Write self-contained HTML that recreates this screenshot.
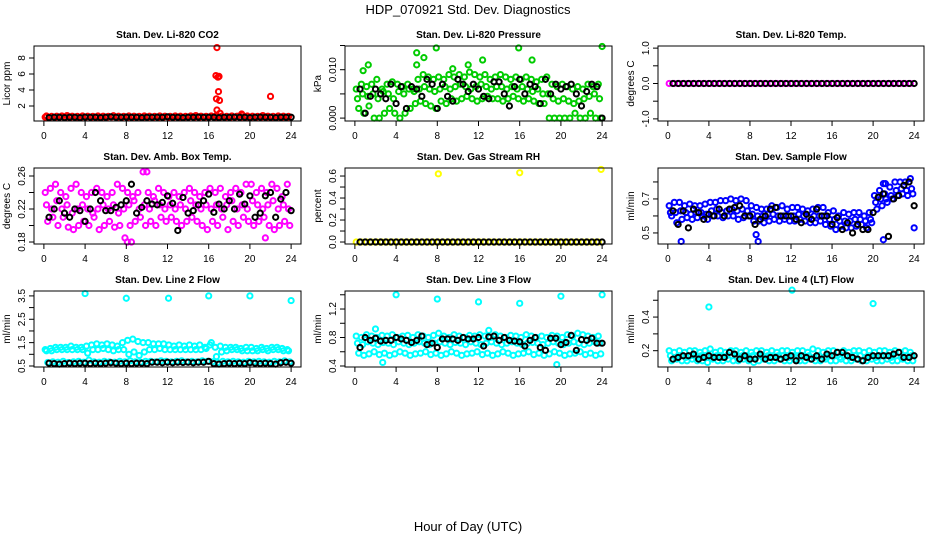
<!DOCTYPE html>
<html><head><meta charset="utf-8"><style>
html,body{margin:0;padding:0;background:#fff;}
svg{display:block;font-family:"Liberation Sans",Arial,sans-serif;}
</style></head><body>
<svg id="chart" width="936" height="540" viewBox="0 0 936 540" xmlns="http://www.w3.org/2000/svg">
<text x="468" y="14" font-size="13" text-anchor="middle">HDP_070921  Std. Dev. Diagnostics</text>
<text x="468" y="531" font-size="13" text-anchor="middle">Hour of Day (UTC)</text>
</svg>
<script>
// ---- data ----
const hourTicks = [0,4,8,12,16,20,24];
const panelTitles = ["Stan. Dev. Li-820 CO2","Stan. Dev. Li-820 Pressure","Stan. Dev. Li-820 Temp.","Stan. Dev. Amb. Box Temp.","Stan. Dev. Gas Stream RH","Stan. Dev. Sample Flow","Stan. Dev. Line 2 Flow","Stan. Dev. Line 3 Flow","Stan. Dev. Line 4 (LT) Flow"];
const yTitles = ["Licor ppm","kPa","degrees C","degrees C","percent","ml/min","ml/min","ml/min","ml/min"];

const co2C1 = [0.6,0.62,0.6,0.65,0.6,0.62,0.6,0.6,0.63,0.6,0.62,0.6,0.6,0.65,0.6,0.62,0.6,0.6,0.63,0.6,0.62,0.6,0.6,0.62,0.6,0.62,0.6,0.6,0.63,0.6,0.62,0.6,0.65,0.6,0.62,0.6,0.6,0.63,0.6,0.62,0.6,0.6,0.62,0.6,0.62,0.6,0.6,0.6];
const co2C2 = [0.75,0.7,0.72,0.75,0.8,0.72,0.7,0.75,0.72,0.7,0.75,0.72,0.7,0.78,0.72,0.7,0.75,0.72,0.7,0.75,0.72,0.7,0.75,0.72,0.7,0.75,0.72,0.7,0.75,0.8,0.72,0.7,0.75,0.8,0.72,0.7,0.75,0.72,0.85,0.75,0.72,0.7,0.8,0.72,0.7,0.75,0.72,0.7];
const co2Bk = [0.55,0.6,0.6,0.55,0.6,0.6,0.55,0.62,0.6,0.6,0.55,0.6,0.65,0.6,0.6,0.62,0.6,0.6,0.55,0.6,0.6,0.62,0.6,0.65,0.6,0.6,0.55,0.6,0.6,0.62,0.6,0.6,0.6,0.55,0.6,0.6,0.62,0.6,0.6,0.55,0.6,0.62,0.6,0.6,0.55,0.6,0.6,0.6];
const co2OutX = [16.8,16.7,16.9,17.0,16.95,16.75,17.05,16.8,17.1,22.0,19.2];
const co2OutY = [9.3,5.8,5.6,5.7,3.8,2.9,2.7,1.5,1.1,3.2,1.0];

const presC1 = [0.006,0.007,0.0065,0.007,0.008,0.006,0.007,0.0075,0.007,0.0065,0.007,0.006,0.008,0.009,0.0085,0.008,0.0085,0.008,0.009,0.0085,0.009,0.0085,0.0095,0.009,0.0085,0.009,0.008,0.0085,0.009,0.0085,0.008,0.0085,0.008,0.0085,0.008,0.0075,0.008,0.0085,0.007,0.0065,0.007,0.0065,0.006,0.0065,0.006,0.007,0.0065,0.007];
const presC2 = [0.004,0.005,0.0045,0.005,0.004,0.0055,0.005,0.004,0.0055,0.005,0.006,0.0055,0.006,0.0065,0.006,0.0055,0.006,0.0065,0.006,0.0065,0.007,0.0065,0.006,0.0065,0.007,0.0065,0.006,0.0065,0.0065,0.006,0.0065,0.006,0.0065,0.006,0.0055,0.006,0.005,0.005,0.004,0.0035,0.004,0.0035,0.003,0.0035,0.004,0.0045,0.005,0.004];
const presC3 = [0.002,0.001,0.0025,0,0,0.001,0.002,0.001,0,0.001,0.002,0.003,0.0035,0.003,0.0025,0.002,0.0035,0.003,0.004,0.0035,0.004,0.0045,0.004,0.0035,0.004,0.0045,0.004,0.004,0.0035,0.004,0.0045,0.004,0.0035,0.004,0.0035,0.003,0.003,0,0,0,0,0,0.001,0,0,0.001,0,0];
const presBk = [0.006,0.001,0.0045,0.006,0.005,0.004,0.007,0.003,0.0065,0.002,0.0065,0.006,0.0045,0.008,0.007,0.002,0.007,0.0045,0.0035,0.008,0.007,0.0055,0.007,0.006,0.0045,0.004,0.0075,0.0075,0.005,0.0025,0.0065,0.008,0.005,0.007,0.0065,0.003,0.008,0.005,0.007,0.006,0.0065,0.007,0.005,0.0025,0.0055,0.007,0.0065,0];
const presOutX = [0.8,1.3,6.0,6.7,7.9,9.5,11.0,12.4,15.9,17.2,24.0,6.0];
const presOutY = [0.0098,0.011,0.0135,0.0125,0.0145,0.0102,0.011,0.012,0.0145,0.012,0.0148,0.011];

const tempC1 = [0,0,0,0,0,0,0,0,0,0,0,0,0,0,0,0,0,0,0,0,0,0,0,0,0,0,0,0,0,0,0,0,0,0,0,0,0,0,0,0,0,0,0,0,0,0,0,0];
const tempBk = [0,0,0,0,0,0,0,0,0,0,0,0,0,0,0,0,0,0,0,0,0,0,0,0,0,0,0,0,0,0,0,0,0,0,0,0,0,0,0,0,0,0,0,0,0,0,0,0];

const boxC1 = [0.24,0.245,0.25,0.24,0.235,0.245,0.25,0.24,0.235,0.24,0.245,0.24,0.235,0.24,0.25,0.245,0.24,0.235,0.24,0.265,0.24,0.235,0.245,0.24,0.235,0.24,0.235,0.24,0.245,0.24,0.235,0.24,0.245,0.24,0.245,0.235,0.24,0.245,0.24,0.25,0.25,0.24,0.245,0.24,0.25,0.245,0.235,0.25];
const boxC2 = [0.225,0.22,0.23,0.22,0.225,0.215,0.22,0.225,0.22,0.215,0.22,0.225,0.22,0.225,0.215,0.22,0.225,0.23,0.22,0.225,0.22,0.23,0.225,0.22,0.225,0.22,0.225,0.22,0.23,0.225,0.22,0.225,0.22,0.225,0.22,0.225,0.23,0.22,0.225,0.22,0.23,0.225,0.22,0.225,0.23,0.22,0.225,0.22];
const boxC3 = [0.205,0.21,0.2,0.21,0.198,0.195,0.2,0.205,0.2,0.21,0.195,0.2,0.205,0.198,0.2,0.185,0.2,0.205,0.21,0.2,0.205,0.2,0.21,0.205,0.21,0.205,0.2,0.205,0.21,0.205,0.2,0.195,0.205,0.2,0.21,0.195,0.205,0.2,0.21,0.205,0.2,0.205,0.21,0.2,0.195,0.2,0.205,0.2];
const boxBk = [0.21,0.22,0.23,0.215,0.21,0.22,0.218,0.205,0.22,0.24,0.23,0.218,0.218,0.222,0.225,0.23,0.25,0.215,0.222,0.23,0.226,0.225,0.228,0.236,0.227,0.194,0.234,0.215,0.218,0.225,0.23,0.238,0.216,0.226,0.22,0.23,0.22,0.238,0.226,0.236,0.21,0.215,0.236,0.24,0.21,0.232,0.24,0.218];
const boxOutX = [8.1,8.5,10.0,21.5];
const boxOutY = [0.18,0.18,0.265,0.185];

const rhC1 = [0,0,0,0,0,0,0,0,0,0,0,0,0,0,0,0,0,0,0,0,0,0,0,0,0,0,0,0,0,0,0,0,0,0,0,0,0,0,0,0,0,0,0,0,0,0,0,0];
const rhBk = [0,0,0,0,0,0,0,0,0,0,0,0,0,0,0,0,0,0,0,0,0,0,0,0,0,0,0,0,0,0,0,0,0,0,0,0,0,0,0,0,0,0,0,0,0,0,0,0];
const rhOutX = [8.1,16.0,23.9];
const rhOutY = [0.62,0.63,0.66];

const sfC1 = [0.66,0.68,0.68,0.66,0.67,0.66,0.66,0.67,0.68,0.68,0.69,0.69,0.7,0.69,0.7,0.69,0.66,0.65,0.64,0.64,0.66,0.65,0.66,0.64,0.65,0.65,0.64,0.63,0.64,0.65,0.65,0.62,0.63,0.6,0.62,0.61,0.62,0.62,0.6,0.62,0.72,0.75,0.73,0.77,0.8,0.8,0.8,0.82];
const sfC2 = [0.62,0.62,0.63,0.62,0.61,0.62,0.62,0.61,0.63,0.64,0.62,0.63,0.64,0.63,0.64,0.63,0.61,0.6,0.6,0.61,0.61,0.6,0.6,0.6,0.6,0.61,0.6,0.59,0.6,0.6,0.6,0.58,0.58,0.57,0.57,0.57,0.58,0.58,0.57,0.58,0.68,0.7,0.7,0.72,0.75,0.76,0.75,0.76];
const sfC3 = [0.6,0.56,0.58,0.59,0.58,0.59,0.6,0.58,0.6,0.6,0.59,0.6,0.6,0.58,0.59,0.6,0.57,0.57,0.56,0.57,0.58,0.57,0.58,0.57,0.57,0.58,0.57,0.56,0.56,0.57,0.55,0.54,0.52,0.54,0.53,0.53,0.54,0.55,0.53,0.56,0.64,0.66,0.68,0.7,0.72,0.73,0.72,0.73];
const sfBk = [0.63,0.55,0.63,0.53,0.64,0.62,0.58,0.61,0.6,0.64,0.6,0.64,0.65,0.66,0.6,0.6,0.55,0.58,0.6,0.64,0.65,0.6,0.6,0.6,0.58,0.56,0.61,0.58,0.64,0.6,0.6,0.55,0.59,0.52,0.56,0.5,0.55,0.52,0.52,0.62,0.71,0.73,0.48,0.7,0.72,0.78,0.8,0.66];
const sfOutX = [1.3,8.6,8.8,21.0,21.2,24.0,21.0];
const sfOutY = [0.45,0.49,0.45,0.79,0.79,0.53,0.46];

const l2C1 = [1.2,1.25,1.3,1.3,1.3,1.35,1.3,1.3,1.35,1.4,1.45,1.4,1.45,1.4,1.35,1.5,1.6,1.65,1.55,1.5,1.5,1.45,1.45,1.45,1.4,1.35,1.4,1.35,1.4,1.35,1.4,1.3,1.4,1.3,1.35,1.3,1.3,1.3,1.25,1.3,1.3,1.25,1.3,1.25,1.3,1.3,1.25,1.2];
const l2C2 = [1.15,1.15,1.2,1.2,1.2,1.2,1.2,1.2,1.05,1.2,1.2,1.25,1.2,1.15,1.2,1.2,1.0,1.1,0.95,1.1,1.2,1.2,1.25,1.2,1.2,1.2,1.2,1.2,1.2,1.2,1.2,1.25,1.5,0.9,1.1,1.15,1.2,1.2,1.15,1.15,1.15,1.15,1.2,1.15,1.2,1.2,1.15,1.15];
const l2C3 = [0.65,0.68,0.66,0.7,0.65,0.68,0.7,0.66,0.75,0.68,0.66,0.7,0.68,0.66,0.7,0.68,0.72,0.68,0.66,0.7,0.7,0.68,0.72,0.7,0.68,0.7,0.72,0.68,0.7,0.68,0.72,0.7,0.68,0.65,0.7,0.68,0.7,0.68,0.66,0.7,0.68,0.7,0.68,0.66,0.7,0.68,0.72,0.68];
const l2Bk = [0.62,0.6,0.58,0.6,0.62,0.6,0.62,0.62,0.6,0.62,0.6,0.62,0.64,0.62,0.6,0.62,0.6,0.62,0.62,0.6,0.66,0.66,0.64,0.66,0.64,0.66,0.65,0.66,0.64,0.66,0.66,0.7,0.6,0.58,0.6,0.62,0.6,0.62,0.6,0.64,0.62,0.6,0.62,0.6,0.58,0.64,0.66,0.62];
const l2OutX = [4.0,8.0,12.1,16.0,20.0,24.0];
const l2OutY = [3.6,3.4,3.4,3.5,3.5,3.3];

const l3C1 = [0.82,0.8,0.84,0.82,0.8,0.83,0.82,0.84,0.8,0.82,0.83,0.8,0.84,0.82,0.8,0.83,0.86,0.82,0.8,0.84,0.82,0.8,0.83,0.82,0.84,0.82,0.8,0.84,0.82,0.8,0.83,0.82,0.8,0.84,0.82,0.8,0.82,0.8,0.83,0.82,0.8,0.84,0.82,0.86,0.84,0.82,0.8,0.82];
const l3C2 = [0.72,0.7,0.74,0.72,0.7,0.73,0.72,0.7,0.74,0.72,0.7,0.72,0.74,0.72,0.7,0.72,0.74,0.72,0.7,0.73,0.72,0.7,0.74,0.72,0.7,0.72,0.74,0.72,0.7,0.72,0.74,0.72,0.7,0.72,0.73,0.72,0.7,0.72,0.74,0.72,0.7,0.72,0.74,0.72,0.7,0.72,0.74,0.72];
const l3C3 = [0.58,0.55,0.57,0.6,0.56,0.58,0.55,0.57,0.6,0.58,0.55,0.57,0.58,0.6,0.56,0.58,0.55,0.57,0.6,0.58,0.55,0.57,0.58,0.6,0.56,0.58,0.55,0.57,0.6,0.58,0.55,0.57,0.58,0.6,0.56,0.58,0.55,0.57,0.6,0.58,0.55,0.57,0.58,0.6,0.56,0.58,0.55,0.57];
const l3Bk = [0.66,0.8,0.76,0.79,0.75,0.76,0.76,0.8,0.78,0.76,0.73,0.76,0.82,0.7,0.72,0.66,0.78,0.78,0.78,0.76,0.8,0.78,0.78,0.8,0.68,0.81,0.82,0.76,0.8,0.76,0.75,0.74,0.68,0.76,0.8,0.66,0.62,0.79,0.79,0.7,0.73,0.83,0.62,0.77,0.76,0.79,0.72,0.72];
const l3OutX = [4.0,8.0,12.0,16.0,20.0,24.0,2.0,13.0,19.6,2.7];
const l3OutY = [1.4,1.34,1.3,1.28,1.38,1.4,0.92,0.9,0.42,0.45];

const l4C1 = [0.2,0.19,0.2,0.19,0.2,0.2,0.19,0.2,0.21,0.19,0.2,0.19,0.2,0.2,0.19,0.2,0.19,0.2,0.2,0.19,0.2,0.19,0.2,0.2,0.19,0.2,0.2,0.19,0.21,0.2,0.19,0.2,0.2,0.19,0.2,0.19,0.2,0.2,0.19,0.2,0.19,0.2,0.2,0.19,0.2,0.19,0.2,0.19];
const l4C2 = [0.17,0.16,0.17,0.16,0.17,0.16,0.17,0.17,0.16,0.17,0.16,0.17,0.17,0.16,0.17,0.16,0.17,0.17,0.16,0.17,0.16,0.17,0.17,0.16,0.17,0.16,0.17,0.17,0.16,0.17,0.16,0.17,0.17,0.16,0.17,0.16,0.17,0.17,0.16,0.17,0.16,0.17,0.17,0.16,0.17,0.16,0.17,0.17];
const l4C3 = [0.14,0.15,0.14,0.14,0.15,0.14,0.14,0.13,0.15,0.14,0.14,0.15,0.14,0.14,0.15,0.14,0.13,0.14,0.15,0.14,0.14,0.15,0.14,0.14,0.15,0.14,0.14,0.15,0.14,0.14,0.15,0.14,0.14,0.15,0.14,0.14,0.15,0.14,0.14,0.15,0.14,0.14,0.15,0.14,0.14,0.15,0.14,0.14];
const l4Bk = [0.15,0.16,0.17,0.17,0.18,0.15,0.16,0.17,0.16,0.16,0.16,0.19,0.18,0.15,0.17,0.15,0.15,0.18,0.15,0.16,0.16,0.15,0.16,0.17,0.14,0.17,0.16,0.15,0.17,0.15,0.18,0.17,0.19,0.19,0.17,0.16,0.15,0.14,0.16,0.17,0.17,0.17,0.17,0.18,0.19,0.16,0.16,0.17];
const l4OutX = [4.0,12.1,20.0];
const l4OutY = [0.46,0.56,0.48];

// ---- layout (pixel geometry, not data) ----
const colX = [[34,301],[345,612],[658,924]];
const rowY = [[46,121],[168,244],[291,367]];
const yLims = [[0.125,9.5],[-0.0006,0.0149],[-1.06,1.06],[0.1776,0.2697],[-0.018,0.673],[0.435,0.882],[0.457,3.71],[0.386,1.453],[0.103,0.555]];
const yTickVals = [[2,4,6,8],[0,0.005,0.01,0.015],[-1,-0.5,0,0.5,1],[0.18,0.2,0.22,0.24,0.26],[0,0.1,0.2,0.3,0.4,0.5,0.6],[0.5,0.6,0.7,0.8],[0.5,1,1.5,2,2.5,3,3.5],[0.4,0.6,0.8,1,1.2,1.4],[0.2,0.3,0.4,0.5]];
const yTickLabels = [["2","4","6","8"],["0.000","","0.010",""],["-1.0","","0.0","","1.0"],["0.18","","0.22","","0.26"],["0.0","","0.2","","0.4","","0.6"],["0.5","","0.7",""],["0.5","","1.5","","2.5","","3.5"],["0.4","","0.8","","1.2",""],["0.2","","0.4",""]];
const colorSeries = [[co2C1,co2C2],[presC1,presC2,presC3],[tempC1],[boxC1,boxC2,boxC3],[rhC1],[sfC1,sfC2,sfC3],[l2C1,l2C2,l2C3],[l3C1,l3C2,l3C3],[l4C1,l4C2,l4C3]];
const blackSeries = [co2Bk,presBk,tempBk,boxBk,rhBk,sfBk,l2Bk,l3Bk,l4Bk];
const outX = [co2OutX,presOutX,[],boxOutX,rhOutX,sfOutX,l2OutX,l3OutX,l4OutX];
const outY = [co2OutY,presOutY,[],boxOutY,rhOutY,sfOutY,l2OutY,l3OutY,l4OutY];
const colors = ["#ff0000","#00cc00","#ff00ff","#ff00ff","#ffff00","#0000ff","#00ffff","#00ffff","#00ffff"];

const NS = "http://www.w3.org/2000/svg";
const svg = document.getElementById('chart');
function mk(tag, attrs, parent){const e=document.createElementNS(NS,tag);for(const k in attrs)e.setAttribute(k,attrs[k]);(parent||svg).appendChild(e);return e;}

for (let p=0;p<9;p++){
  const [x0,x1]=colX[p%3], [y0,y1]=rowY[Math.floor(p/3)];
  const [lo,hi]=yLims[p];
  const xs = h => x0 + (h + 0.96)/25.92*(x1-x0);
  const ys = v => y1 - (v-lo)/(hi-lo)*(y1-y0);
  const g = mk('g',{});
  
  
  const t = mk('text',{x:(x0+x1)/2,y:y0-8,'font-size':10,'font-weight':'bold','text-anchor':'middle'},g);
  t.textContent = panelTitles[p];
  
  
  const yt = mk('text',{x:0,y:0,'font-size':10,'text-anchor':'middle',transform:`translate(${x0-24},${(y0+y1)/2}) rotate(-90)`},g);
  yt.textContent = yTitles[p];
  
  
  const pts = mk('g',{fill:'none','stroke-width':2},g);
  
  
  colorSeries[p].forEach((arr,si)=>{
    arr.forEach((v,i)=>{
      const c = mk('circle',{cx:xs(0.25+i*0.5+(si-1)*0.12),cy:ys(v),r:2.6,stroke:colors[p]},pts);
      
      
    });
  });
  outX[p].forEach((h,i)=>{
    const c = mk('circle',{cx:xs(h),cy:ys(outY[p][i]),r:2.6,stroke:colors[p]},pts);
    
    
  });
  blackSeries[p].forEach((v,i)=>{
    const c = mk('circle',{cx:xs(0.5+i*0.5),cy:ys(v),r:2.6,stroke:'#000'},pts);
    
    
  });
  const b = mk('rect',{x:x0,y:y0,width:x1-x0,height:y1-y0,fill:'none',stroke:'#000','stroke-width':1},g);
  
  
  const xa = mk('g',{stroke:'#000','stroke-width':1},g);
  
  
  mk('line',{x1:xs(hourTicks[0]),x2:xs(hourTicks[hourTicks.length-1]),y1:y1,y2:y1},xa);
  hourTicks.forEach(h=>{
    mk('line',{x1:xs(h),x2:xs(h),y1:y1,y2:y1+5},xa);
    const l = mk('text',{x:xs(h),y:y1+18,'font-size':10,'text-anchor':'middle',stroke:'none',fill:'#000'},xa);
    l.textContent = h;
    
    
  });
  const ya = mk('g',{stroke:'#000','stroke-width':1},g);
  
  
  const tv = yTickVals[p];
  mk('line',{x1:x0,x2:x0,y1:ys(tv[0]),y2:ys(tv[tv.length-1])},ya);
  tv.forEach((v,i)=>{
    mk('line',{x1:x0-5,x2:x0,y1:ys(v),y2:ys(v)},ya);
    if (yTickLabels[p][i]) {
      const l = mk('text',{x:0,y:0,'font-size':10,'text-anchor':'middle',stroke:'none',fill:'#000',transform:`translate(${x0-9},${ys(v)}) rotate(-90)`},ya);
      l.textContent = yTickLabels[p][i];
      
      
    }
  });
}
</script>
</body></html>
